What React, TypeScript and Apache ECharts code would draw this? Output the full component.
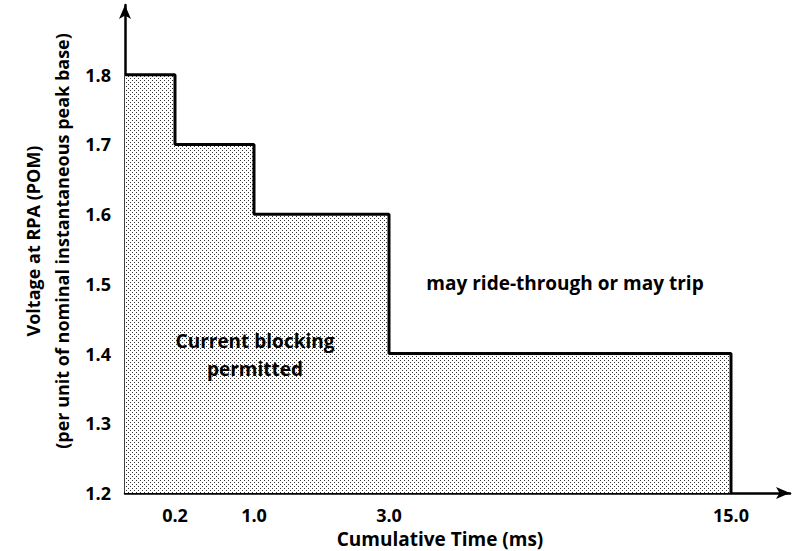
import React, { useEffect, useRef } from "react";
import * as echarts from "echarts";

// Schematic (non-linear) time axis: each time label sits at a position on the drawn axis
const timeLabels = ["0.2", "1.0", "3.0", "15.0"];
const timeAxisPositions = [1, 2.58, 5.28, 12.12];
// Voltage level held from the previous time mark until each time mark
const voltageLevels = [1.8, 1.7, 1.6, 1.4];
const voltageTicks = [1.2, 1.3, 1.4, 1.5, 1.6, 1.7, 1.8];
const yMin = 1.2;
const yMax = 1.9;
const xMax = 13.3;

const FONT = "'Open Sans'";

export default function App() {
  const ref = useRef<HTMLDivElement>(null);
  useEffect(() => {
    if (!ref.current) return;
    const chart = echarts.init(ref.current, null, { renderer: "svg" });

    const c = document.createElement("canvas");
    c.width = 4;
    c.height = 4;
    const ctx = c.getContext("2d")!;
    ctx.fillStyle = "#ffffff";
    ctx.fillRect(0, 0, 4, 4);
    ctx.fillStyle = "#333333";
    ctx.fillRect(0, 0, 1, 1);
    ctx.fillRect(2, 2, 1, 1);

    const stepData: number[][] = [[0, voltageLevels[0]]];
    timeAxisPositions.forEach((p, i) => {
      stepData.push([p, i + 1 < voltageLevels.length ? voltageLevels[i + 1] : yMin]);
    });

    chart.setOption({
      animation: false,
      backgroundColor: "#ffffff",
      grid: { left: 125, right: 6, top: 5, bottom: 58, containLabel: false },
      xAxis: {
        type: "value",
        min: 0,
        max: xMax,
        splitLine: { show: false },
        axisLine: {
          show: true,
          lineStyle: { color: "#000", width: 2.5 },
          symbol: ["none", "arrow"],
          symbolSize: [9, 14],
        },
        axisTick: {
          show: true,
          inside: true,
          length: 24,
          customValues: timeAxisPositions,
          lineStyle: { color: "#000", width: 1 },
        },
        axisLabel: {
          customValues: timeAxisPositions,
          formatter: (v: number) => {
            const i = timeAxisPositions.findIndex((p) => Math.abs(p - v) < 1e-6);
            return i >= 0 ? timeLabels[i] : "";
          },
          color: "#000",
          fontFamily: FONT,
          fontWeight: "bold",
          fontSize: 18,
          margin: 13,
        },
      },
      yAxis: {
        type: "value",
        min: yMin,
        max: yMax,
        interval: 0.1,
        splitLine: { show: false },
        axisLine: {
          show: true,
          lineStyle: { color: "#000", width: 2.5 },
          symbol: ["none", "arrow"],
          symbolSize: [9, 14],
        },
        axisTick: {
          show: true,
          inside: true,
          length: 17,
          customValues: voltageTicks,
          lineStyle: { color: "#000", width: 1 },
        },
        axisLabel: {
          customValues: voltageTicks,
          formatter: (v: number) => v.toFixed(1),
          color: "#000",
          fontFamily: FONT,
          fontWeight: "bold",
          fontSize: 18,
          margin: 14,
        },
      },
      series: [
        {
          type: "line",
          step: "end",
          data: stepData,
          symbol: "none",
          lineStyle: { color: "#000", width: 3 },
          areaStyle: {
            origin: "start",
            color: { image: c, repeat: "repeat" },
            opacity: 1,
          },
          z: 1,
        },
      ],
      graphic: [
        {
          type: "text",
          x: 47,
          y: 241,
          rotation: Math.PI / 2,
          style: {
            text: "Voltage at RPA (POM)\n(per unit of nominal instantaneous peak base)",
            fill: "#000",
            font: `bold 18px ${FONT}`,
            align: "center",
            verticalAlign: "middle",
            lineHeight: 29,
          },
        },
        {
          type: "text",
          x: 440,
          y: 539,
          style: {
            text: "Cumulative Time (ms)",
            fill: "#000",
            font: `bold 19px ${FONT}`,
            align: "center",
            verticalAlign: "middle",
          },
        },
        {
          type: "text",
          x: 255,
          y: 355,
          z: 10,
          style: {
            text: "Current blocking\npermitted",
            fill: "#000",
            font: `bold 19px ${FONT}`,
            align: "center",
            verticalAlign: "middle",
            lineHeight: 28,
          },
        },
        {
          type: "text",
          x: 565,
          y: 283,
          style: {
            text: "may ride-through or may trip",
            fill: "#000",
            font: `bold 19px ${FONT}`,
            align: "center",
            verticalAlign: "middle",
          },
        },
      ],
    });
    return () => chart.dispose();
  }, []);
  return <div ref={ref} style={{ width: 796, height: 551, position: "absolute", left: 0, top: 0 }} />;
}
